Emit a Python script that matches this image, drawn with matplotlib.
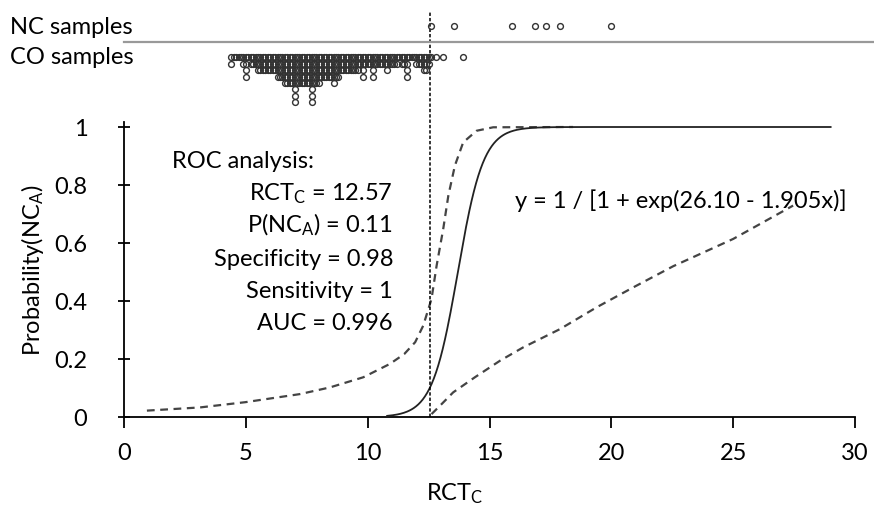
import numpy as np
import matplotlib
matplotlib.use("Agg")
import matplotlib.pyplot as plt
from matplotlib.lines import Line2D

plt.rcParams['font.family'] = ['Lato', 'DejaVu Sans']
plt.rcParams['mathtext.fontset'] = 'custom'
plt.rcParams['mathtext.rm'] = 'Lato'
plt.rcParams['mathtext.it'] = 'Lato'
plt.rcParams['mathtext.default'] = 'regular'

# ---------------- data ----------------
# logistic fit  y = 1 / [1 + exp(a - b x)]
fit_a = 26.10
fit_b = 1.905
fit_x_range = [10.8, 29.0]
rct_c = 12.57

# confidence band
upper_x = [0.94, 3.12, 4.97, 7.22, 8.45, 9.82, 10.91, 11.5, 11.95, 12.28, 12.62,
           12.83, 13.1, 13.31, 13.58, 13.92, 14.47, 15.15, 18.43]
upper_y = [0.022, 0.033, 0.051, 0.079, 0.102, 0.137, 0.183, 0.217, 0.258, 0.315,
           0.407, 0.522, 0.648, 0.763, 0.867, 0.947, 0.987, 0.999, 1.0]
lower_x = [12.62, 12.97, 13.51, 14.4, 15.43, 16.38, 17.89, 19.39, 20.9, 22.54,
           25.0, 27.46]
lower_y = [0.010, 0.039, 0.085, 0.137, 0.194, 0.240, 0.303, 0.378, 0.447, 0.520,
           0.614, 0.729]

# NC samples (RCT values)
nc_ct = [12.6, 13.55, 15.93, 16.86, 17.33, 17.88, 19.98]

# CO samples: RCT value and number of samples with that value
co_ct = [4.4, 4.5, 4.6, 4.7, 4.8, 4.9, 5.0, 5.1, 5.2, 5.3, 5.4, 5.5, 5.6, 5.7, 5.8,
         5.9, 6.0, 6.1, 6.2, 6.3, 6.4, 6.5, 6.6, 6.7, 6.8, 6.9, 7.0, 7.1, 7.2, 7.3,
         7.4, 7.5, 7.6, 7.7, 7.8, 7.9, 8.0, 8.1, 8.2, 8.3, 8.4, 8.5, 8.6, 8.7, 8.8,
         8.9, 9.0, 9.1, 9.2, 9.3, 9.4, 9.5, 9.6, 9.7, 9.8, 9.9, 10.0, 10.1, 10.2,
         10.3, 10.4, 10.5, 10.6, 10.7, 10.8, 10.9, 11.0, 11.1, 11.2, 11.3, 11.4,
         11.5, 11.6, 11.7, 11.8, 11.9, 12.0, 12.1, 12.2, 12.3, 12.4, 12.5, 12.6,
         12.8, 13.1, 13.9]
co_n = [2, 1, 1, 1, 1, 2, 4, 1, 2, 2, 2, 3, 3, 3, 3,
        3, 3, 3, 3, 4, 4, 4, 5, 5, 5, 5, 8, 5, 5, 5,
        5, 5, 5, 8, 5, 5, 5, 4, 4, 4, 4, 4, 5, 4, 4,
        3, 3, 3, 3, 3, 3, 3, 3, 2, 4, 2, 2, 2, 4,
        2, 2, 2, 2, 2, 3, 2, 2, 2, 2, 1, 2,
        2, 4, 1, 1, 1, 2, 2, 2, 3, 3, 2, 1,
        1, 1, 1]

roc_title = "ROC analysis:"
roc_lines = ["RCT$_C$ = 12.57", "P(NC$_A$) = 0.11", "Specificity = 0.98",
             "Sensitivity = 1", "AUC = 0.996"]
equation = "y = 1 / [1 + exp(26.10 - 1.905x)]"
x_ticks = [0, 5, 10, 15, 20, 25, 30]
y_ticks = [0, 0.2, 0.4, 0.6, 0.8, 1]
y_tick_labels = ["0", "0.2", "0.4", "0.6", "0.8", "1"]

# ---------------- figure ----------------
W, H = 874, 506
fig = plt.figure(figsize=(W / 100, H / 100), dpi=100)
FS = 17

def fx(px):
    return px / W

def fy(py):
    return 1 - py / H

# main axes: x 124..855 px, y=0 at 418 px, y=1 at 128 px
ax_left, ax_right, ax_bottom_px, ax_top_px = 124, 855, 418, 123
ax = fig.add_axes([fx(ax_left), fy(ax_bottom_px), (ax_right - ax_left) / W,
                   (ax_bottom_px - ax_top_px) / H])
ax.set_xlim(0, 30)
ax.set_ylim(0, 1 + 5 / 290)
for s in ['top', 'right']:
    ax.spines[s].set_visible(False)
for s in ['left', 'bottom']:
    ax.spines[s].set_linewidth(1.3)
    ax.spines[s].set_color('black')
ax.set_xticks(x_ticks)
ax.set_yticks(y_ticks)
ax.set_yticklabels(y_tick_labels)
ax.tick_params(axis='x', direction='out', length=8, width=1.3, pad=10, labelsize=FS)
ax.tick_params(axis='y', direction='inout', length=8.6, width=1.3, pad=22, labelsize=FS)

# logistic curve
xs = np.linspace(fit_x_range[0], fit_x_range[1], 400)
ys = 1 / (1 + np.exp(fit_a - fit_b * xs))
ax.plot(xs, ys, color='#222222', lw=1.3, zorder=3)

dash = (0, (3.5, 2.5))
ax.plot(upper_x, upper_y, color='#444444', lw=1.6, linestyle=dash, zorder=2)
ax.plot(lower_x, lower_y, color='#444444', lw=1.6, linestyle=dash, zorder=2)

# threshold line running up through the sample strip
ax.plot([rct_c, rct_c], [0, (418 - 12) / 290], color='black', lw=1.1,
        linestyle=(0, (2.2, 1.3)), clip_on=False, zorder=4)

# ROC text (baselines)
ax.text(1.97, 0.862, roc_title, fontsize=FS, ha='left', va='baseline')
roc_y = [0.752, 0.641, 0.524, 0.414, 0.303]
for t, yy in zip(roc_lines, roc_y):
    ax.text(11.04, yy, t, fontsize=FS, ha='right', va='baseline')
ax.text(16.04, 0.724, equation, fontsize=FS, ha='left', va='baseline')

fig.text(fx(33), fy(270), "Probability(NC$_A$)", rotation=90, fontsize=FS,
         ha='center', va='center')
fig.text(fx(455), fy(500), "RCT$_C$", fontsize=FS, ha='center', va='baseline')

# ---------------- sample strip ----------------
sx = fig.add_axes([fx(ax_left), fy(112), (ax_right - ax_left) / W, 100 / H])
sx.set_xlim(0, 30)
sx.set_ylim(112, 12)
sx.axis('off')
NC_Y, CO_Y0, ROW = 27, 58.3, 6.4
mk = dict(marker='o', ms=4.2, mfc='none', mec='#333333', mew=1.0, linestyle='none',
          clip_on=False)
sx.plot(nc_ct, [NC_Y] * len(nc_ct), **mk)
cx, cy = [], []
for v, n in zip(co_ct, co_n):
    for k in range(n):
        cx.append(v)
        cy.append(CO_Y0 + k * ROW)
sx.plot(cx, cy, **mk)

fig.add_artist(Line2D([fx(124), 1], [fy(43), fy(43)], color='#999999', lw=1.6))
fig.text(fx(10), fy(27), "NC samples", fontsize=FS, ha='left', va='center')
fig.text(fx(10), fy(58), "CO samples", fontsize=FS, ha='left', va='center')

fig.savefig("out.png", dpi=100)
